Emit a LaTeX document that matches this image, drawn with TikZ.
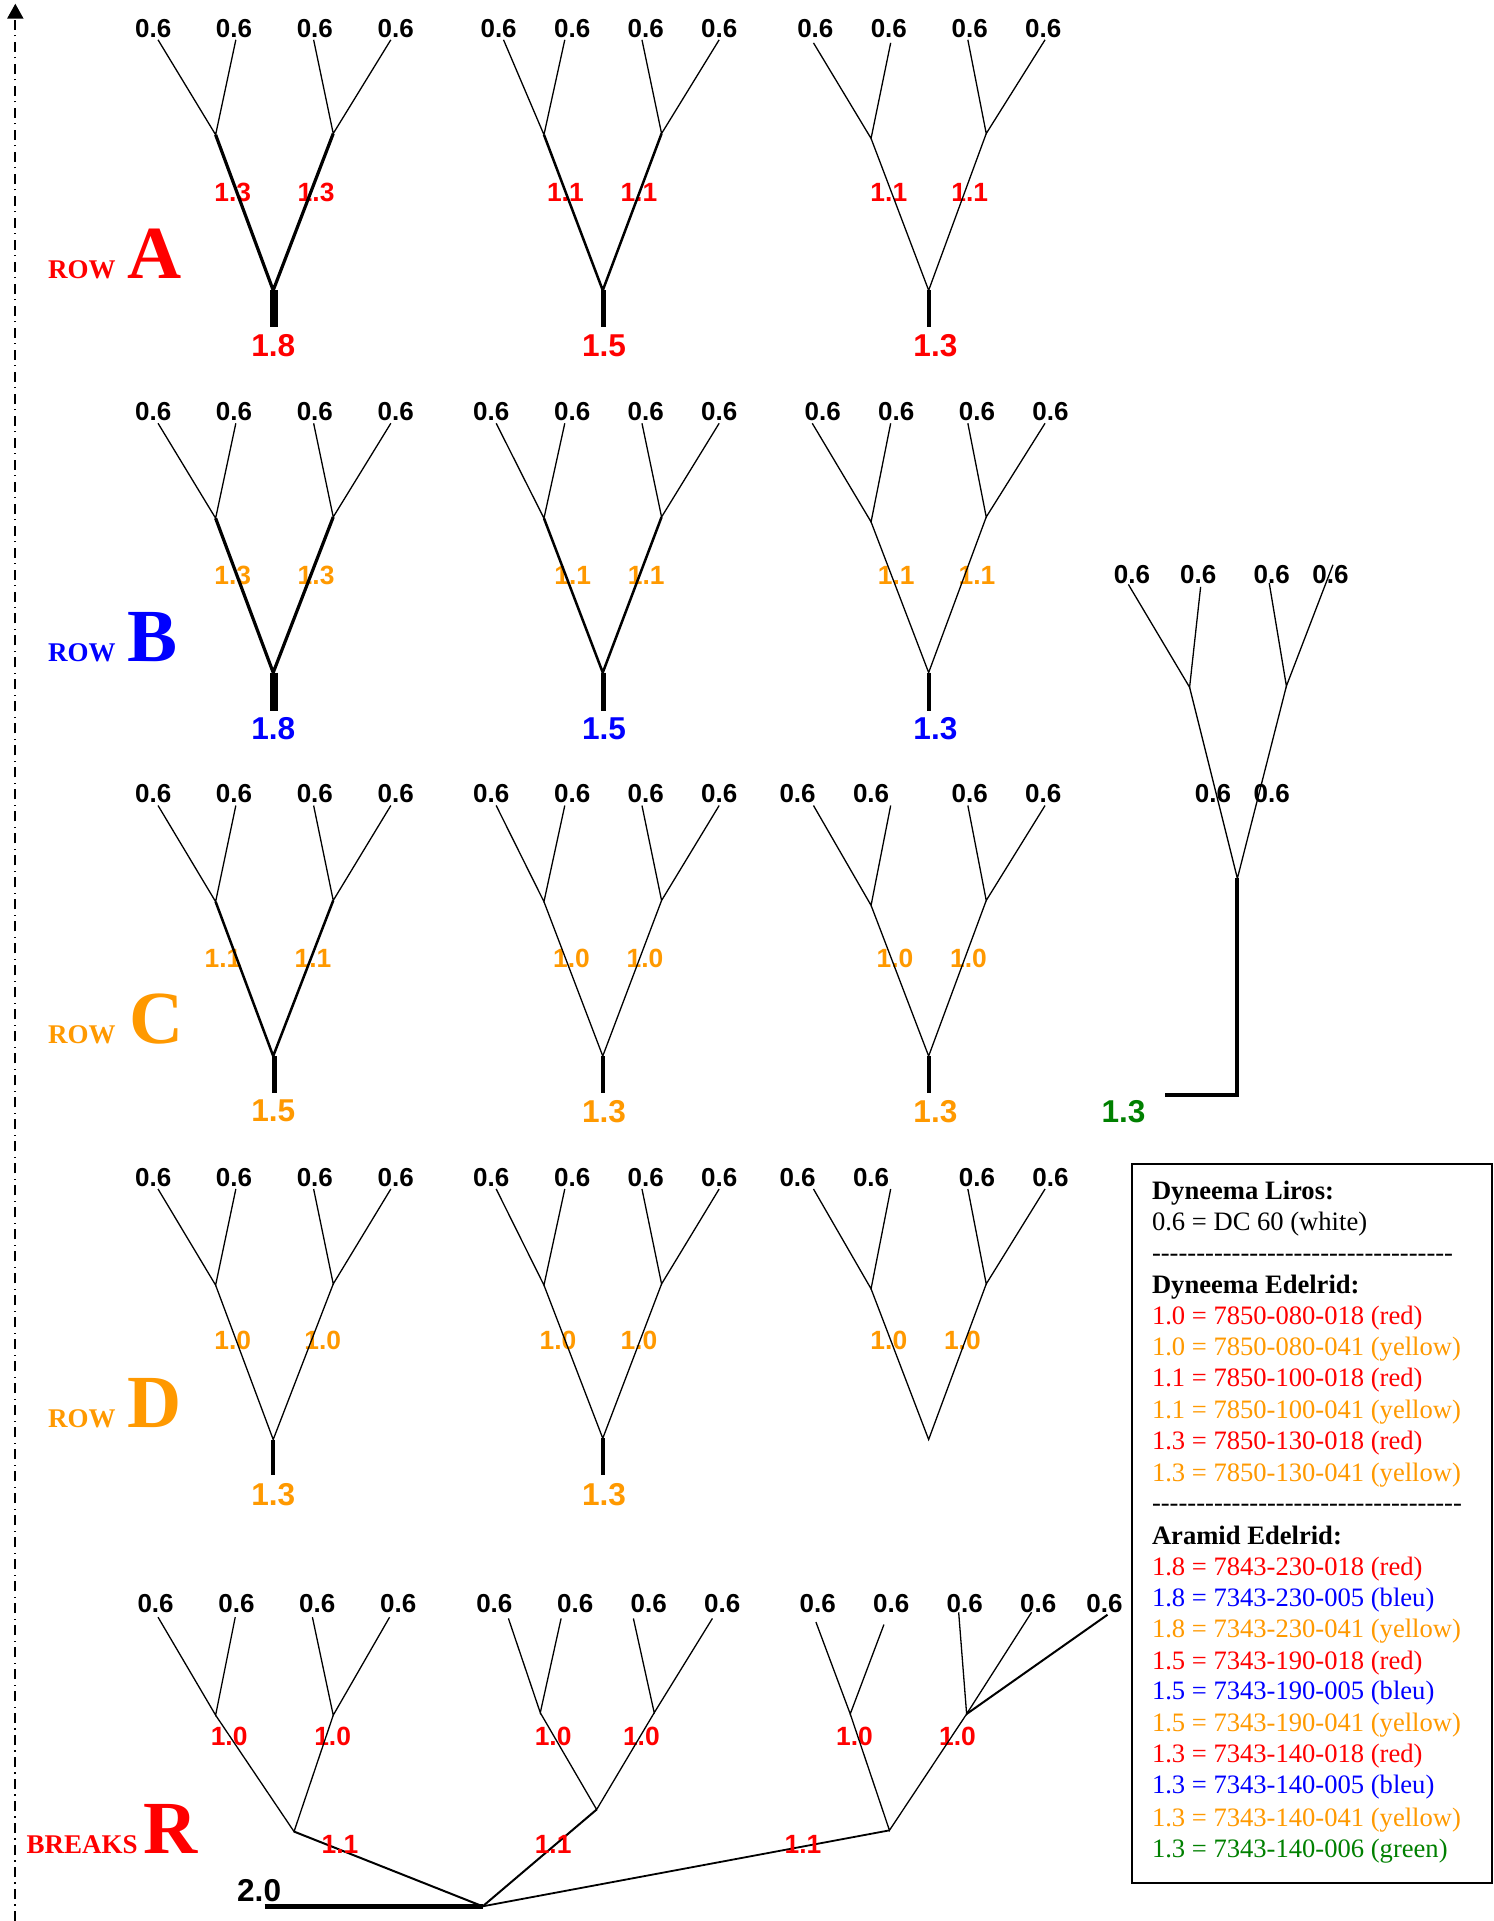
\documentclass[tikz,border=0pt]{standalone}
\usepackage{fontspec}
\setmainfont{Liberation Serif}
\newfontfamily\arialf{Liberation Sans}
\usetikzlibrary{arrows.meta}
\definecolor{cred}{RGB}{255,0,0}
\definecolor{cblue}{RGB}{0,0,255}
\definecolor{corange}{RGB}{255,153,0}
\definecolor{cgreen}{RGB}{0,128,0}
\tikzset{
  toplab/.style={inner sep=0pt,font=\arialf\bfseries\fontsize{13}{15}\selectfont,text=black},
  midlab/.style={inner sep=0pt,font=\arialf\bfseries\fontsize{13.2}{15}\selectfont},
  botlab/.style={inner sep=0pt,font=\arialf\bfseries\fontsize{15.8}{18}\selectfont},
  rowword/.style={inner sep=0pt,anchor=base west,font=\bfseries\fontsize{13.5}{16}\selectfont},
  rowletter/.style={inner sep=0pt,anchor=base west,font=\bfseries\fontsize{37.5}{40}\selectfont},
  thinl/.style={line width=0.65pt,black},
  midl/.style={line width=1.25pt,black},
  heavyl/.style={line width=1.6pt,black},
  stema/.style={line width=4pt,black},
  stemb/.style={line width=2.6pt,black},
  stemc/.style={line width=1.9pt,black},
  legendline/.style={inner sep=0pt,anchor=base west,font=\fontsize{13.3}{16}\selectfont},
}
\newcommand\hyphens[1]{\foreach \k in {1,...,#1}{-{}}}
% id, label y, labelx/topx/topdy list, joint1, joint2, bottom, lower style
\newcommand\ytree[7]{
  \foreach \lx/\tx/\td [count=\ii] in {#3} {
    \node[toplab] (#1l\ii) at (\lx,#2) {0.6};
    \pgfmathsetmacro\ty{#2+\td}
    \coordinate (#1t\ii) at (\tx,\ty);
  }
  \coordinate (#1j1) at (#4);
  \coordinate (#1j2) at (#5);
  \coordinate (#1b) at (#6);
  \draw[thinl] (#1t1) -- (#1j1) -- (#1t2);
  \draw[thinl] (#1t3) -- (#1j2) -- (#1t4);
  \draw[#7] (#1j1) -- (#1b) -- (#1j2);
}
% id, y, x1, x2, text, colour
\newcommand\midpair[6]{
  \node[midlab,text=#6] (#1m1) at (#3,#2) {#5};
  \node[midlab,text=#6] (#1m2) at (#4,#2) {#5};
}
% id, stem x, label x, stem bottom y, label y, text, colour, style
\newcommand\treestem[8]{
  \coordinate (#1e) at (#2,#4);
  \draw[#8] (#1b -| #1e) -- (#1e);
  \node[botlab,text=#7] (#1v) at (#3,#5) {#6};
}
\begin{document}
\begin{tikzpicture}[x=0.6128pt,y=-0.6128pt]
\useasboundingbox (0,0) rectangle (1219,1568);
\fill[white] (0,0) rectangle (1219,1568);
% axis
\coordinate (axb) at (12.5,1568);
\coordinate (axt) at (12.5,3);
\draw[line width=1.1pt,dash pattern=on 5pt off 2.7pt on 0.6pt off 2.7pt,-{Triangle[length=7.5pt,width=8pt]}] (axb) -- (axt);
% row labels
\node[rowword,text=cred] (wa) at (39,227) {ROW};
\node[rowletter,text=cred] (la) at (104,227.5) {A};
\node[rowword,text=cblue] (wb) at (39,540) {ROW};
\node[rowletter,text=cblue] (lb) at (104,540) {B};
\node[rowword,text=corange] (wc) at (39,852) {ROW};
\node[rowletter,text=corange] (lc) at (105,852) {C};
\node[rowword,text=corange] (wd) at (39,1165) {ROW};
\node[rowletter,text=corange] (ld) at (104,1165) {D};
\node[rowword,text=cred] (wr) at (21.5,1513) {BREAKS};
\node[rowletter,text=cred] (lr) at (117,1513) {R};
% mid labels (under the lines)
\midpair{a1}{157}{190}{258}{1.3}{cred}
\midpair{a2}{157}{461.5}{521.5}{1.1}{cred}
\midpair{a3}{157}{725.5}{791.5}{1.1}{cred}
\midpair{b1}{469.5}{190}{258}{1.3}{corange}
\midpair{b2}{469.5}{467.5}{527.5}{1.1}{corange}
\midpair{b3}{469.5}{731.5}{797.5}{1.1}{corange}
\midpair{c1}{782}{182}{255.5}{1.1}{corange}
\midpair{c2}{782}{466.5}{526.5}{1.0}{corange}
\midpair{c3}{782}{730.5}{790.5}{1.0}{corange}
\midpair{d1}{1094}{190}{263.5}{1.0}{corange}
\midpair{d2}{1094}{455.5}{521.5}{1.0}{corange}
\midpair{d3}{1094}{725.5}{785.5}{1.0}{corange}
\midpair{r1}{1417}{187}{271.5}{1.0}{cred}
\midpair{r2}{1417}{451.5}{523.5}{1.0}{cred}
\midpair{r3}{1417}{697.5}{781.5}{1.0}{cred}
% row A
\ytree{a1}{23}{125/129/9.5,191/192.5/9.5,257/256/9.5,323/319/9.5}{176,110}{272,109}{223,237}{heavyl}
\treestem{a1}{224}{223}{267}{282}{1.8}{cred}{stema}
\ytree{a2}{23}{407/411/9.5,467/461/9.5,527/524/9.5,587/587/9.5}{444,110}{540,109}{492,237}{midl}
\treestem{a2}{492.5}{493}{267}{282}{1.5}{cred}{stemb}
\ytree{a3}{23}{665.5/664/12,725.5/727/12,791.5/790/9.5,851.5/853/9.5}{711,113}{805,109}{758,237}{thinl}
\treestem{a3}{758}{763.5}{267}{282}{1.3}{cred}{stemc}
% row B
\ytree{b1}{336}{125/129/9.5,191/192.5/9.5,257/256/9.5,323/319/9.5}{176,423}{272,422}{223,549}{heavyl}
\treestem{b1}{224}{223}{580}{595}{1.8}{cblue}{stema}
\ytree{b2}{336}{401/405/9.5,467/461/9.5,527/524/9.5,587/587/9.5}{444,423}{540,422}{492,549}{midl}
\treestem{b2}{492.5}{493}{580}{595}{1.5}{cblue}{stemb}
\ytree{b3}{336}{671.5/663/9.5,731.5/727/9.5,797.5/790/9.5,857.5/853/9.5}{711,426}{805,422}{758,549}{thinl}
\treestem{b3}{758}{763.5}{580}{595}{1.3}{cblue}{stemc}
% row C
\ytree{c1}{648}{125/129/9.5,191/192.5/9.5,257/256/9.5,323/319/9.5}{176,736}{272,735}{223,862}{midl}
\treestem{c1}{224}{223}{892}{907}{1.5}{corange}{stemb}
\ytree{c2}{648}{401/405/9.5,467/461/9.5,527/524/9.5,587/587/9.5}{444,736}{540,735}{492,862}{thinl}
\treestem{c2}{492.5}{493}{892}{907}{1.3}{corange}{stemc}
\ytree{c3}{648}{651/664/9.5,711/727/9.5,791.5/790/9.5,851.5/853/9.5}{711,739}{805,735}{758,862}{thinl}
\treestem{c3}{758}{763.5}{892}{907}{1.3}{corange}{stemc}
% row D
\ytree{d1}{961}{125/129/9.5,191/192.5/9.5,257/256/9.5,323/319/9.5}{176,1049}{272,1048}{223,1175}{thinl}
\treestem{d1}{223}{223}{1204}{1220}{1.3}{corange}{stemc}
\ytree{d2}{961}{401/405/9.5,467/461/9.5,527/524/9.5,587/587/9.5}{444,1049}{540,1048}{492,1174}{thinl}
\treestem{d2}{492.5}{493}{1204}{1220}{1.3}{corange}{stemc}
\ytree{d3}{961}{651/664/9.5,711/727/9.5,797.5/790/9.5,857.5/853/9.5}{711,1052}{805,1048}{758,1175}{thinl}
% right tree
\ytree{e}{469}{924/921/8,978/980/10,1038/1036/7,1086/1088/-8}{971,561}{1050,560}{1010,717}{thinl}
\node[toplab] (em1) at (990,648) {0.6};
\node[toplab] (em2) at (1038,648) {0.6};
\coordinate (ec) at (1010,893.5);
\coordinate (ee) at (951,893.5);
\draw[line width=2pt] (eb) -- (ec) -- (ee);
\node[botlab,text=cgreen] (ev) at (917,907) {1.3};
% breaks tree
\ytree{r1}{1309}{127/129/11,193/192/11,259/255/11,325/318/11}{176,1400}{272,1400}{240,1495}{thinl}
\ytree{r2}{1309}{403.5/415/12,469.5/458/12,529.5/517/12,589.5/581.5/12}{441,1398}{534,1398}{487,1477}{thinl}
\ytree{r3}{1309}{667.5/666/15,727.5/721.5/17,787.5/782.5/7,847.5/842/7}{694,1399}{789,1399}{726,1494}{thinl}
\node[toplab] (rx) at (901.5,1309) {0.6};
\coordinate (rxt) at (904,1318);
\draw[line width=1pt] (r3j2) -- (rxt);
\coordinate (ro) at (394,1556);
\coordinate (rs) at (216,1556);
\draw[line width=1pt] (r1b) -- (ro);
\draw[line width=1pt] (r2b) -- (ro);
\draw[line width=0.9pt] (r3b) -- (ro);
\draw[line width=2.6pt] (rs) -- (ro);
\node[midlab,text=cred] (rl1) at (277.5,1505.5) {1.1};
\node[midlab,text=cred] (rl2) at (451.5,1505.5) {1.1};
\node[midlab,text=cred] (rl3) at (655.5,1505.5) {1.1};
\node[botlab] (rz) at (211.5,1543) {2.0};
% legend
\node[draw=black,line width=1pt,inner sep=0pt,minimum width=180.2pt,minimum height=359.7pt,anchor=north west] (legbox) at (923,949) {};
\node[legendline] (l01) at (940,979) {\textbf{Dyneema Liros:}};
\node[legendline] (l02) at (940,1004) {0.6 = DC 60 (white)};
\node[legendline] (l03) at (940,1030) {\hyphens{34}};
\node[legendline] (l04) at (940,1055.5) {\textbf{Dyneema Edelrid:}};
\node[legendline,text=cred] (l05) at (940,1081) {1.0 = 7850-080-018 (red)};
\node[legendline,text=corange] (l06) at (940,1106) {1.0 = 7850-080-041 (yellow)};
\node[legendline,text=cred] (l07) at (940,1132) {1.1 = 7850-100-018 (red)};
\node[legendline,text=corange] (l08) at (940,1158) {1.1 = 7850-100-041 (yellow)};
\node[legendline,text=cred] (l09) at (940,1183) {1.3 = 7850-130-018 (red)};
\node[legendline,text=corange] (l10) at (940,1209) {1.3 = 7850-130-041 (yellow)};
\node[legendline] (l11) at (940,1234) {\hyphens{35}};
\node[legendline] (l12) at (940,1260.5) {\textbf{Aramid Edelrid:}};
\node[legendline,text=cred] (l13) at (940,1286) {1.8 = 7843-230-018 (red)};
\node[legendline,text=cblue] (l14) at (940,1311) {1.8 = 7343-230-005 (bleu)};
\node[legendline,text=corange] (l15) at (940,1336.5) {1.8 = 7343-230-041 (yellow)};
\node[legendline,text=cred] (l16) at (940,1362.5) {1.5 = 7343-190-018 (red)};
\node[legendline,text=cblue] (l17) at (940,1387.5) {1.5 = 7343-190-005 (bleu)};
\node[legendline,text=corange] (l18) at (940,1413) {1.5 = 7343-190-041 (yellow)};
\node[legendline,text=cred] (l19) at (940,1439) {1.3 = 7343-140-018 (red)};
\node[legendline,text=cblue] (l20) at (940,1464) {1.3 = 7343-140-005 (bleu)};
\node[legendline,text=corange] (l21) at (940,1490.5) {1.3 = 7343-140-041 (yellow)};
\node[legendline,text=cgreen] (l22) at (940,1516) {1.3 = 7343-140-006 (green)};
\end{tikzpicture}
\end{document}
